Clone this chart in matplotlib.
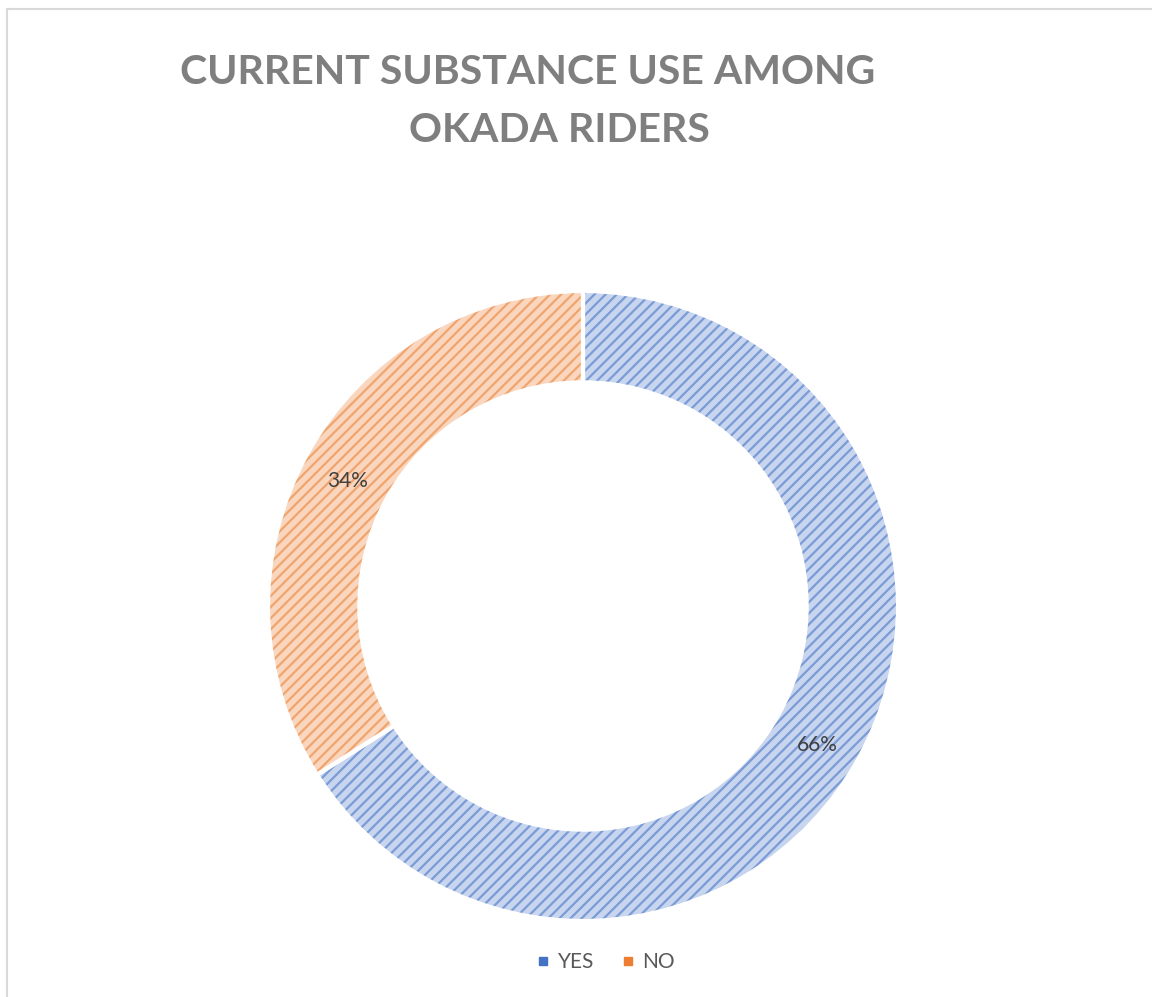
import matplotlib.pyplot as plt
from matplotlib.lines import Line2D

plt.rcParams['font.family'] = ['Lato', 'DejaVu Sans']
plt.rcParams['hatch.linewidth'] = 1.6

# data
labels = ['YES', 'NO']
values = [66, 34]
face_colors = ['#c8d5ef', '#f9d6bd']
hatch_colors = ['#7b9bd6', '#f0a46e']
legend_colors = ['#4472c4', '#ed7d31']
title_lines = ['CURRENT SUBSTANCE USE AMONG', 'OKADA RIDERS']


def draw():
    fig = plt.figure(figsize=(11.52, 9.97), dpi=100)

    # chart frame (light gray border, cut at right/bottom)
    fig.add_artist(Line2D([7 / 1152, 7 / 1152], [0, 1 - 9 / 997],
                          transform=fig.transFigure, color='#d9d9d9', lw=1.5))
    fig.add_artist(Line2D([7 / 1152, 1], [1 - 9 / 997, 1 - 9 / 997],
                          transform=fig.transFigure, color='#d9d9d9', lw=1.5))

    cx, cy, r = 583, 606, 315
    ax = fig.add_axes([(cx - r) / 1152, 1 - (cy + r) / 997, 2 * r / 1152, 2 * r / 997])

    # hatched rings
    wedges, _ = ax.pie(values, startangle=90, counterclock=False, radius=1,
                       wedgeprops=dict(width=0.29, linewidth=0))
    for w, fc, hc in zip(wedges, face_colors, hatch_colors):
        w.set_facecolor(fc)
        w.set_edgecolor(hc)
        w.set_hatch('///')
    # white separators
    ax.pie(values, startangle=90, counterclock=False, radius=1,
           wedgeprops=dict(width=0.29, linewidth=3, edgecolor='white', fill=False))

    # percentage labels
    pos = [((817 - cx) / r, (cy - 745) / r), ((348 - cx) / r, (cy - 481) / r)]
    for v, (x, y) in zip(values, pos):
        ax.text(x, y, f'{v}%', ha='center', va='center', fontsize=15, color='#404040')
    ax.set_xlim(-1, 1)
    ax.set_ylim(-1, 1)
    ax.set_aspect('auto')
    ax.axis('off')

    for line, x, y in zip(title_lines, [528, 559], [72, 130]):
        fig.text(x / 1152, 1 - y / 997, line, ha='center', va='center',
                 fontsize=29.5, fontweight='bold', color='#7f7f7f')

    handles = [Line2D([], [], marker='s', linestyle='', markersize=6,
                      markerfacecolor=c, markeredgecolor=c) for c in legend_colors]
    fig.legend(handles, labels, loc='center', bbox_to_anchor=(605 / 1152, 1 - 962 / 997),
               ncol=2, frameon=False, fontsize=15, labelcolor='#595959',
               handletextpad=0.3, columnspacing=1.2, handlelength=0.8)

    fig.savefig('out.png', dpi=100)


if __name__ == '__main__':
    draw()
